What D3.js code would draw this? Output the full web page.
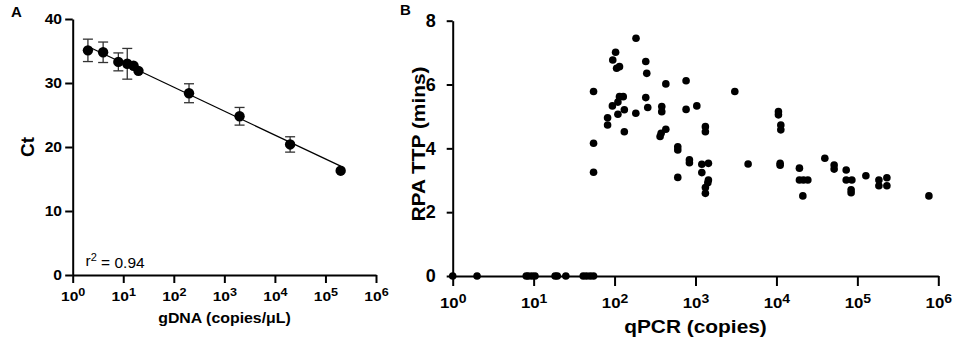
<!DOCTYPE html>
<html>
<head>
<meta charset="utf-8">
<script src="https://cdn.jsdelivr.net/npm/d3@7"></script>
<style>
  body { margin: 0; background: #fff; }
  svg { display: block; font-family: "Liberation Sans", Arial, sans-serif; }
  .axis path, .axis line { stroke: #000; stroke-width: 2; }
  .axis text { fill: #000; font-weight: bold; }
</style>
</head>
<body>
<svg id="chart" width="957" height="355"></svg>
<script>
// ---- panel A : standard curve (Ct vs gDNA) ----
var gdnaCopies = [2, 4, 8, 12, 16, 20, 200, 2000, 20000, 200000];
var ctMean     = [35.1, 34.8, 33.3, 33.0, 32.7, 31.9, 28.4, 24.8, 20.4, 16.3];
var ctSd       = [1.75, 1.6, 1.4, 2.4, 0, 0, 1.48, 1.38, 1.2, 0];
var fitCopies  = [2, 200000];
var fitCt      = [35.7, 17.0];
var rSquared   = "0.94";

// ---- panel B : RPA time to positive vs qPCR copies ----
var qpcrCopies = [
  1, 2, 8.1, 8.6, 9.5, 10.4, 18.4, 19.6, 25, 41, 45, 50, 55,
  55, 55, 55, 82, 82, 94, 95, 103, 106, 115,
  110, 110, 115, 128, 132, 132, 183, 184,
  243, 250, 243, 257, 383, 383, 430, 430, 365, 376,
  604, 604, 604, 765, 765, 1038, 841, 841,
  1325, 1325, 1197, 1444, 1197, 1444, 1419, 1325, 1325,
  3060, 4467, 10590, 10590, 11330, 11330, 11110, 11110,
  19240, 19240, 21580, 24430, 21200, 39630, 51640, 51640,
  72770, 72770, 85500, 83700, 83700,
  127400, 184500, 184500, 231600, 231600, 765600
];
var rpaTtp = [
  0, 0, 0, 0, 0, 0, 0, 0, 0, 0, 0, 0, 0,
  5.78, 4.16, 3.25, 4.96, 4.73, 5.33, 6.77, 7.01, 6.51, 6.56,
  5.45, 5.07, 5.62, 5.62, 5.21, 4.52, 5.10, 7.45,
  6.72, 6.35, 5.59, 5.28, 5.31, 5.15, 6.02, 4.60, 4.37, 4.47,
  4.05, 3.95, 3.09, 6.12, 5.22, 5.33, 3.64, 3.55,
  4.68, 4.52, 3.50, 3.53, 3.24, 3.01, 2.92, 2.77, 2.59,
  5.78, 3.51, 5.15, 5.05, 4.73, 4.58, 3.53, 3.47,
  3.38, 3.01, 3.01, 3.01, 2.51, 3.69, 3.48, 3.35,
  3.32, 3.01, 3.01, 2.70, 2.61,
  3.14, 3.01, 2.83, 3.08, 2.83, 2.51
];

var logTicks = [1, 10, 100, 1000, 10000, 100000, 1000000];
var ctTicks  = [0, 10, 20, 30, 40];
var ttpTicks = [0, 2, 4, 6, 8];

var svg = d3.select("#chart");

// "10" with superscript exponent
function powLabel(sel, supSize) {
  sel.each(function(d) {
    var t = d3.select(this);
    t.text("10");
    t.append("tspan")
      .attr("dy", "-0.45em")
      .style("font-size", supSize)
      .text(Math.round(Math.log10(d)));
  });
}

// ================= panel A =================
var xA = d3.scaleLog().domain([1, 1e6]).range([72.7, 376]),
    yA = d3.scaleLinear().domain([0, 40]).range([275, 19]);

var gA = svg.append("g");

var axA_x = gA.append("g")
    .attr("class", "axis")
    .attr("transform", "translate(0," + yA(0) + ")")
    .call(d3.axisBottom(xA).tickValues(logTicks).tickSize(8).tickSizeOuter(0).tickPadding(8.3));
axA_x.selectAll(".tick text")
    .style("font-size", "13px")
    .attr("transform", "scale(1.2,1)")
    .call(powLabel, "10.5px");

gA.append("g")
    .attr("class", "axis")
    .attr("transform", "translate(" + xA(1) + ",0)")
    .call(d3.axisLeft(yA).tickValues(ctTicks).tickSize(7.5).tickSizeOuter(0).tickPadding(2))
  .selectAll(".tick text")
    .style("font-size", "14px")
    .attr("transform", "scale(1.12,1)");

// fit line
gA.append("line")
    .attr("x1", xA(fitCopies[0])).attr("y1", yA(fitCt[0]))
    .attr("x2", xA(fitCopies[1])).attr("y2", yA(fitCt[1]))
    .attr("stroke", "#000").attr("stroke-width", 1.3);

var ptsA = gdnaCopies.map(function(c, i) { return {x: c, y: ctMean[i], sd: ctSd[i]}; });

var err = gA.selectAll(".err").data(ptsA.filter(function(d) { return d.sd > 0; }))
  .enter().append("g").attr("class", "err")
    .attr("stroke", "#333").attr("stroke-width", 1.3);
err.append("line")
    .attr("x1", function(d) { return xA(d.x); }).attr("x2", function(d) { return xA(d.x); })
    .attr("y1", function(d) { return yA(d.y + d.sd); }).attr("y2", function(d) { return yA(d.y - d.sd); });
[1, -1].forEach(function(s) {
  err.append("line")
      .attr("x1", function(d) { return xA(d.x) - 5; }).attr("x2", function(d) { return xA(d.x) + 5; })
      .attr("y1", function(d) { return yA(d.y + s * d.sd); }).attr("y2", function(d) { return yA(d.y + s * d.sd); });
});

gA.selectAll(".dotA").data(ptsA).enter().append("circle")
    .attr("class", "dotA")
    .attr("cx", function(d) { return xA(d.x); })
    .attr("cy", function(d) { return yA(d.y); })
    .attr("r", 5.2)
    .attr("fill", "#000");

// labels A
gA.append("text").attr("x", 11).attr("y", 16.5)
    .style("font-size", "15px").style("font-weight", "bold").text("A");
gA.append("text")
    .attr("transform", "translate(33.5," + (yA(20)) + ") rotate(-90)")
    .attr("text-anchor", "middle")
    .style("font-size", "19px").style("font-weight", "bold").text("Ct");
gA.append("text")
    .attr("transform", "translate(" + 224.5 + ",322.5) scale(1.06,1)")
    .attr("text-anchor", "middle")
    .style("font-size", "15px").style("font-weight", "bold").text("gDNA (copies/\u03bcL)");
var r2 = gA.append("text").attr("x", 85.5).attr("y", 265.7).style("font-size", "15.5px");
r2.append("tspan").text("r");
r2.append("tspan").attr("dy", "-0.42em").style("font-size", "11px").text("2");
r2.append("tspan").attr("dy", "0.42em").text(" = " + rSquared);

// ================= panel B =================
var xB = d3.scaleLog().domain([1, 1e6]).range([452.7, 938.3]),
    yB = d3.scaleLinear().domain([0, 8]).range([276, 20.7]);

var gB = svg.append("g");

var axB_x = gB.append("g")
    .attr("class", "axis")
    .attr("transform", "translate(0," + yB(0) + ")")
    .call(d3.axisBottom(xB).tickValues(logTicks).tickSize(10).tickSizeOuter(0).tickPadding(11.5));
axB_x.selectAll(".tick text")
    .style("font-size", "15px")
    .attr("transform", "scale(1.12,1)")
    .call(powLabel, "12.5px");

gB.append("g")
    .attr("class", "axis")
    .attr("transform", "translate(" + xB(1) + ",0)")
    .call(d3.axisLeft(yB).tickValues(ttpTicks).tickSize(6).tickSizeOuter(0).tickPadding(11))
  .selectAll(".tick text").style("font-size", "18px");

var ptsB = qpcrCopies.map(function(c, i) { return {x: c, y: rpaTtp[i]}; });

gB.selectAll(".dotB").data(ptsB).enter().append("circle")
    .attr("class", "dotB")
    .attr("cx", function(d) { return xB(d.x); })
    .attr("cy", function(d) { return yB(d.y); })
    .attr("r", 3.8)
    .attr("fill", "#000");

gB.append("text").attr("x", 400).attr("y", 15)
    .style("font-size", "15px").style("font-weight", "bold").text("B");
gB.append("text")
    .attr("transform", "translate(424.5,144) rotate(-90) scale(1.16,1)")
    .attr("text-anchor", "middle")
    .style("font-size", "18px").style("font-weight", "bold").text("RPA TTP (mins)");
gB.append("text")
    .attr("transform", "translate(695.5,332.7) scale(1.16,1)")
    .attr("text-anchor", "middle")
    .style("font-size", "18px").style("font-weight", "bold").text("qPCR (copies)");
</script>
</body>
</html>
